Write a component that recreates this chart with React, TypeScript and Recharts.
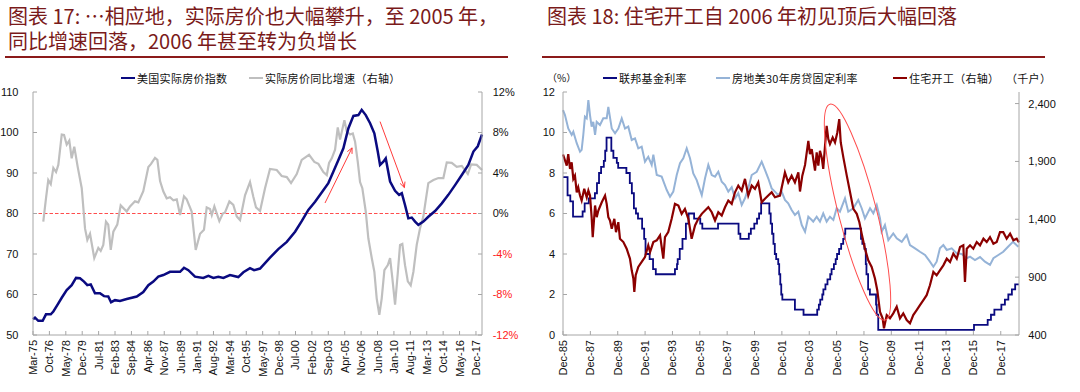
import { LineChart, Line, XAxis, YAxis, ReferenceLine } from "recharts";

// ---- 图表17: 美国实际房价 (decimal year, value) ----
const realHpiIndex: [number, number][] = [
  [1975.17, 53.9], [1975.36, 54.3], [1975.68, 53.5], [1976.1, 53.5], [1976.42, 55.1], [1976.88, 55.1],
  [1977.13, 55.8], [1977.51, 57.4], [1977.94, 59.2], [1978.42, 61.1], [1978.9, 62.3], [1979.32, 64.1],
  [1979.7, 64.0], [1980.09, 63.2], [1980.41, 62.3], [1980.74, 62.5], [1981.15, 60.3], [1981.63, 60.3],
  [1982.02, 59.6], [1982.43, 59.5], [1982.7, 58.1], [1983.08, 58.6], [1983.56, 58.4], [1984.21, 58.9],
  [1985.18, 59.5], [1985.81, 60.6], [1986.3, 62.3], [1986.78, 63.2], [1987.26, 64.4], [1987.74, 64.8],
  [1988.39, 65.6], [1989.36, 65.6], [1989.74, 66.6], [1990.16, 66.0], [1990.8, 64.4], [1991.6, 64.1],
  [1992.09, 64.6], [1992.57, 64.1], [1993.05, 64.4], [1993.54, 64.1], [1994.18, 64.8], [1994.98, 64.3],
  [1995.47, 65.5], [1996.11, 66.5], [1996.5, 66.0], [1997.08, 66.4], [1998.04, 69.1], [1998.84, 71.2],
  [1999.66, 73.0], [2000.46, 75.5], [2001.1, 78.1], [2001.74, 80.9], [2002.39, 82.9], [2003.03, 85.2],
  [2003.67, 87.5], [2004.15, 90.3], [2004.64, 93.2], [2005.12, 96.1], [2005.6, 101.0], [2006.09, 104.1],
  [2006.57, 104.3], [2006.89, 105.6], [2007.28, 104.3], [2007.7, 102.3], [2008.11, 99.8], [2008.44, 95.3],
  [2008.66, 92.0], [2008.98, 92.8], [2009.21, 93.6], [2009.63, 87.9], [2010.11, 85.6], [2010.5, 84.6],
  [2010.76, 85.0], [2011.07, 82.1], [2011.39, 78.8], [2011.72, 79.0], [2012.04, 78.0], [2012.36, 77.2],
  [2012.84, 78.0], [2013.32, 79.2], [2013.97, 80.6], [2014.62, 82.5], [2015.25, 84.6], [2015.9, 87.0],
  [2016.55, 89.5], [2017.18, 92.0], [2017.67, 95.3], [2018.09, 96.6], [2018.5, 99.5],
];

const realHpiYoY: [number, number][] = [
  [1976.16, -0.8], [1976.42, 1.5], [1976.64, 3.3], [1976.88, 2.9], [1977.13, 4.5], [1977.39, 4.1],
  [1977.61, 4.8], [1977.94, 7.8], [1978.16, 7.75], [1978.42, 6.8], [1978.67, 7.2], [1978.9, 5.45],
  [1979.15, 6.6], [1979.48, 4.6], [1979.87, 2.5], [1980.19, -1.5], [1980.41, -2.6], [1980.67, -2.0],
  [1981.08, -4.4], [1981.47, -3.4], [1981.7, -3.7], [1981.95, -3.1], [1982.21, -0.8], [1982.43, -1.1],
  [1982.67, -3.6], [1982.92, -1.8], [1983.3, -1.1], [1983.63, 0.8], [1984.21, 0.2], [1984.53, 0.7],
  [1985.01, 1.2], [1985.33, 1.1], [1985.81, 2.2], [1986.3, 4.6], [1986.56, 4.9], [1986.94, 5.5],
  [1987.17, 5.3], [1987.43, 3.2], [1987.74, 2.2], [1988.07, 1.5], [1988.39, 1.6], [1988.71, 1.3],
  [1989.04, 1.4], [1989.36, -0.15], [1989.74, 1.7], [1990.0, 1.4], [1990.48, 0.2], [1990.87, -3.6],
  [1991.29, -2.0], [1991.67, -1.6], [1991.93, 0.6], [1992.25, 0.45], [1992.42, -0.15], [1992.67, 0.7],
  [1993.15, -0.75], [1993.48, 0.0], [1993.7, 0.1], [1994.12, 1.2], [1994.5, 0.85], [1994.83, -0.3],
  [1995.15, -0.65], [1995.63, 1.8], [1996.11, 3.1], [1996.43, 1.65], [1996.69, 0.6], [1997.08, 0.25],
  [1997.56, 2.5], [1998.04, 4.4], [1998.69, 4.3], [1999.17, 3.7], [1999.66, 3.6], [2000.07, 3.0],
  [2000.62, 3.9], [2001.1, 5.3], [2001.81, 5.8], [2002.32, 5.1], [2002.71, 4.9], [2003.19, 4.1],
  [2003.52, 3.8], [2003.74, 5.0], [2004.0, 5.45], [2004.32, 6.3], [2004.58, 8.5], [2004.8, 7.3],
  [2005.22, 9.2], [2005.45, 8.1], [2005.77, 7.8], [2006.03, 7.9], [2006.25, 7.1], [2006.51, 5.1],
  [2006.73, 3.1], [2006.95, 2.5], [2007.28, 0.2], [2007.53, -2.45], [2007.86, -4.4], [2008.11, -5.75],
  [2008.34, -8.4], [2008.59, -10.0], [2008.82, -8.4], [2009.08, -5.6], [2009.41, -5.1], [2009.63, -4.4],
  [2009.85, -6.4], [2010.11, -9.0], [2010.37, -5.9], [2010.59, -3.1], [2010.81, -3.0], [2011.07, -5.1],
  [2011.34, -6.7], [2011.62, -7.1], [2011.88, -5.75], [2012.2, -3.1], [2012.52, -1.45], [2012.84, -0.3],
  [2013.07, 1.3], [2013.32, 3.0], [2013.81, 3.3], [2014.29, 3.5], [2014.77, 3.5], [2015.1, 5.05],
  [2015.58, 5.0], [2016.06, 4.6], [2016.55, 4.7], [2017.13, 3.9], [2017.45, 4.85], [2017.99, 4.8],
  [2018.5, 4.3],
];

const leftXLabels = [
  "Mar-75", "Oct-76", "May-78", "Dec-79", "Jul-81", "Feb-83", "Sep-84", "Apr-86", "Nov-87", "Jun-89",
  "Jan-91", "Aug-92", "Mar-94", "Oct-95", "May-97", "Dec-98", "Jul-00", "Feb-02", "Sep-03", "Apr-05",
  "Nov-06", "Jun-08", "Jan-10", "Aug-11", "Mar-13", "Oct-14", "May-16", "Dec-17",
];
const leftXDomain = [1975 + 2 / 12, 2018.5];
const leftYTicks = [50, 60, 70, 80, 90, 100, 110];
const leftY2Ticks = [-12, -8, -4, 0, 4, 8, 12];

// ---- 图表18: 利率 (%) 与住宅开工 (千户) ----
const fedFundsRate: [number, number][] = [
  [1985.92, 7.8], [1986.25, 6.9], [1986.45, 6.6], [1986.65, 5.85], [1987.35, 6.1], [1987.5, 6.5],
  [1987.8, 6.75], [1988.25, 7.0], [1988.4, 7.5], [1988.55, 8.0], [1988.7, 8.3], [1988.9, 8.6],
  [1989.0, 9.1], [1989.1, 9.75], [1989.45, 9.1], [1989.6, 8.75], [1989.85, 8.5], [1989.95, 8.25],
  [1990.55, 8.0], [1990.8, 7.5], [1990.95, 7.0], [1991.1, 6.25], [1991.25, 6.0], [1991.4, 5.75],
  [1991.7, 5.25], [1991.85, 4.75], [1991.95, 4.0], [1992.25, 3.75], [1992.5, 3.25], [1992.7, 3.0],
  [1994.1, 3.25], [1994.25, 3.5], [1994.3, 3.75], [1994.45, 4.25], [1994.65, 4.75], [1994.9, 5.5],
  [1995.1, 6.0], [1995.5, 5.75], [1995.95, 5.5], [1996.1, 5.25], [1997.25, 5.5], [1998.75, 5.0],
  [1998.88, 4.75], [1999.5, 5.0], [1999.65, 5.25], [1999.9, 5.5], [2000.1, 5.75], [2000.25, 6.0],
  [2000.4, 6.5], [2001.0, 6.0], [2001.1, 5.5], [2001.2, 5.0], [2001.3, 4.5], [2001.4, 4.0],
  [2001.5, 3.75], [2001.65, 3.5], [2001.72, 3.0], [2001.8, 2.5], [2001.87, 2.0], [2001.95, 1.75],
  [2002.87, 1.25], [2003.5, 1.0], [2004.5, 1.25], [2004.62, 1.5], [2004.72, 1.75], [2004.87, 2.0],
  [2004.95, 2.25], [2005.1, 2.5], [2005.25, 2.75], [2005.45, 3.0], [2005.55, 3.25], [2005.72, 3.5],
  [2005.85, 3.75], [2005.95, 4.0], [2006.1, 4.25], [2006.25, 4.5], [2006.4, 4.75], [2006.5, 5.0],
  [2006.55, 5.25], [2007.7, 4.75], [2007.8, 4.5], [2007.95, 4.25], [2008.05, 3.5], [2008.1, 3.0],
  [2008.22, 2.25], [2008.35, 2.0], [2008.8, 1.5], [2008.85, 1.0], [2008.96, 0.25], [2015.96, 0.5],
  [2016.96, 0.75], [2017.2, 1.0], [2017.45, 1.25], [2017.96, 1.5], [2018.22, 1.75], [2018.47, 2.0],
  [2018.73, 2.25], [2018.97, 2.5], [2019.25, 2.5],
];

const freddie30y: [number, number][] = [
  [1985.92, 11.1], [1986.06, 10.86], [1986.3, 10.2], [1986.55, 9.88], [1986.67, 10.04], [1986.92, 9.47],
  [1987.16, 9.05], [1987.28, 9.14], [1987.4, 9.88], [1987.52, 10.78], [1987.65, 10.7], [1987.77, 11.6],
  [1987.89, 10.86], [1988.01, 10.29], [1988.13, 10.53], [1988.26, 9.88], [1988.38, 10.53], [1988.62, 10.37],
  [1988.86, 10.7], [1989.11, 10.7], [1989.23, 11.27], [1989.48, 10.2], [1989.72, 9.96], [1989.96, 10.2],
  [1990.21, 10.7], [1990.45, 10.2], [1990.69, 10.29], [1990.94, 9.63], [1991.18, 9.71], [1991.42, 9.22],
  [1991.67, 9.3], [1991.91, 8.56], [1992.15, 8.8], [1992.4, 8.4], [1992.52, 8.9], [1992.77, 7.9],
  [1993.13, 7.82], [1993.5, 7.16], [1993.74, 6.83], [1993.98, 7.08], [1994.23, 7.9], [1994.47, 8.48],
  [1994.71, 8.73], [1994.96, 9.22], [1995.2, 8.73], [1995.44, 7.98], [1995.69, 7.65], [1995.81, 7.4],
  [1996.06, 6.91], [1996.3, 7.74], [1996.54, 8.4], [1996.79, 7.9], [1997.03, 7.82], [1997.27, 8.06],
  [1997.52, 7.57], [1997.76, 7.4], [1998.0, 7.08], [1998.25, 7.3], [1998.49, 6.75], [1998.73, 7.0],
  [1998.98, 6.42], [1999.22, 6.75], [1999.46, 7.24], [1999.71, 7.9], [2000.08, 8.06], [2000.44, 8.56],
  [2000.68, 8.15], [2000.92, 7.74], [2001.17, 7.24], [2001.41, 7.08], [2001.65, 6.91], [2001.9, 7.08],
  [2002.14, 6.67], [2002.38, 6.5], [2002.63, 6.17], [2002.87, 5.93], [2003.12, 6.09], [2003.37, 5.43],
  [2003.61, 5.1], [2003.85, 5.84], [2004.1, 5.68], [2004.21, 5.6], [2004.46, 5.84], [2004.7, 5.6],
  [2004.94, 6.01], [2005.19, 5.6], [2005.43, 5.84], [2005.68, 5.68], [2005.92, 6.26], [2006.16, 6.09],
  [2006.53, 6.75], [2006.77, 6.09], [2007.14, 6.26], [2007.5, 6.67], [2007.75, 6.26], [2007.99, 5.76],
  [2008.36, 6.26], [2008.6, 6.01], [2008.85, 6.42], [2009.09, 5.76], [2009.21, 5.1], [2009.45, 5.43],
  [2009.7, 4.69], [2010.06, 5.02], [2010.31, 4.78], [2010.68, 4.6], [2011.04, 4.94], [2011.28, 4.44],
  [2011.65, 4.28], [2012.01, 4.11], [2012.38, 3.95], [2012.74, 3.62], [2012.99, 3.37], [2013.23, 3.62],
  [2013.47, 4.28], [2013.72, 4.44], [2013.97, 4.2], [2014.33, 4.28], [2014.7, 4.03], [2015.06, 4.0],
  [2015.43, 3.79], [2015.67, 3.87], [2016.03, 3.7], [2016.4, 3.85], [2016.76, 3.62], [2017.13, 3.46],
  [2017.38, 3.79], [2017.74, 3.95], [2018.1, 4.11], [2018.45, 4.36], [2018.81, 4.6], [2019.2, 4.36],
];

const housingStarts: [number, number][] = [
  [1985.92, 1960], [1986.19, 1863], [1986.3, 1964], [1986.43, 1835], [1986.55, 1892], [1986.67, 1749],
  [1986.79, 1777], [1986.92, 1633], [1987.03, 1676], [1987.16, 1605], [1987.28, 1562], [1987.47, 1663],
  [1987.65, 1590], [1987.77, 1648], [1987.89, 1605], [1988.01, 1418], [1988.09, 1246], [1988.26, 1519],
  [1988.38, 1418], [1988.5, 1476], [1988.75, 1547], [1988.99, 1605], [1989.11, 1533], [1989.23, 1418],
  [1989.35, 1390], [1989.48, 1318], [1989.67, 1404], [1989.79, 1289], [1989.96, 1375], [1990.08, 1232],
  [1990.33, 1203], [1990.57, 1146], [1990.81, 1060], [1990.94, 959], [1991.06, 888], [1991.13, 773],
  [1991.23, 916], [1991.42, 988], [1991.67, 1031], [1991.91, 1074], [1992.15, 1175], [1992.28, 1117],
  [1992.52, 1203], [1992.77, 1218], [1993.01, 1261], [1993.25, 1060], [1993.37, 1246], [1993.61, 1289],
  [1993.86, 1404], [1994.1, 1533], [1994.35, 1519], [1994.59, 1447], [1994.83, 1490], [1995.08, 1404],
  [1995.32, 1232], [1995.57, 1347], [1995.81, 1404], [1996.06, 1447], [1996.3, 1476], [1996.54, 1504],
  [1996.79, 1461], [1997.03, 1390], [1997.27, 1461], [1997.52, 1433], [1997.76, 1504], [1998.0, 1562],
  [1998.25, 1533], [1998.49, 1633], [1998.73, 1691], [1998.98, 1648], [1999.22, 1749], [1999.46, 1605],
  [1999.71, 1691], [1999.95, 1663], [2000.19, 1719], [2000.44, 1547], [2000.68, 1577], [2000.92, 1605],
  [2001.17, 1633], [2001.41, 1590], [2001.78, 1605], [2002.14, 1805], [2002.38, 1719], [2002.63, 1777],
  [2002.87, 1719], [2003.12, 1805], [2003.24, 1640], [2003.41, 1777], [2003.61, 1870], [2003.85, 2078],
  [2003.97, 1964], [2004.1, 2007], [2004.21, 1921], [2004.34, 1820], [2004.46, 1978], [2004.58, 1863],
  [2004.7, 1992], [2004.83, 1935], [2004.94, 1835], [2005.07, 2035], [2005.19, 2207], [2005.31, 2093],
  [2005.43, 2050], [2005.63, 2107], [2005.8, 2064], [2005.97, 2150], [2006.11, 2265], [2006.22, 2064],
  [2006.41, 1935], [2006.66, 1777], [2006.9, 1633], [2007.14, 1490], [2007.39, 1447], [2007.58, 1375],
  [2007.75, 1275], [2007.99, 1146], [2008.23, 1045], [2008.48, 988], [2008.72, 888], [2008.89, 787],
  [2009.09, 600], [2009.28, 544], [2009.38, 458], [2009.58, 572], [2009.82, 544], [2010.06, 587],
  [2010.31, 644], [2010.55, 544], [2010.79, 587], [2011.04, 529], [2011.28, 501], [2011.52, 572],
  [2011.77, 615], [2012.01, 658], [2012.26, 701], [2012.5, 744], [2012.74, 830], [2012.99, 945],
  [2013.23, 916], [2013.47, 959], [2013.72, 1002], [2013.97, 1060], [2014.21, 1031], [2014.45, 1103],
  [2014.7, 1060], [2014.94, 1160], [2015.18, 1175], [2015.3, 859], [2015.43, 1146], [2015.67, 1175],
  [2015.91, 1146], [2016.16, 1203], [2016.4, 1175], [2016.65, 1232], [2016.89, 1203], [2017.13, 1246],
  [2017.38, 1189], [2017.62, 1203], [2017.86, 1289], [2018.1, 1289], [2018.35, 1232], [2018.6, 1275],
  [2018.84, 1218], [2019.08, 1232], [2019.25, 1200],
];

const rightXLabels = [
  "Dec-85", "Dec-87", "Dec-89", "Dec-91", "Dec-93", "Dec-95", "Dec-97", "Dec-99", "Dec-01",
  "Dec-03", "Dec-05", "Dec-07", "Dec-09", "Dec-11", "Dec-13", "Dec-15", "Dec-17",
];
const rightXDomain = [1985 + 11 / 12, 2019.25];
const rightYTicks = [0, 2, 4, 6, 8, 10, 12];
const rightY2Ticks = [400, 900, 1400, 1900, 2400];

// annotations, in data units
const zeroLine = [{ x: leftXDomain[0], y: 0 }, { x: leftXDomain[1], y: 0 }];
const riseArrow = [{ x: 2003.35, y: 82.6 }, { x: 2005.96, y: 96.2 }];
const fallArrow = [{ x: 2008.66, y: 102.7 }, { x: 2011.01, y: 86.4 }];
const peakEllipse = [{ x: 2005.43, y: 11.4 }, { x: 2009.46, y: 0.74 }];

const MONTHS = ["Jan", "Feb", "Mar", "Apr", "May", "Jun", "Jul", "Aug", "Sep", "Oct", "Nov", "Dec"];
const labelToYear = (s: string) => {
  const [m, yy] = s.split("-");
  const y = Number(yy);
  return (y < 50 ? 2000 + y : 1900 + y) + MONTHS.indexOf(m) / 12;
};
const rows = (pairs: [number, number][]) => pairs.map(([x, v]) => ({ x, v }));

const AXIS = "#a6a6a6";
const TICK_FONT = "'Liberation Sans', Arial, sans-serif";
const CJK = "'Noto Sans CJK SC', sans-serif";
const TITLE_RED = "#7a1a1a";

const makeXTick = (labels: string[]) => {
  const ticks = labels.map(labelToYear);
  const Tick = (p: any) => {
    const i = ticks.findIndex((t) => Math.abs(t - p.payload.value) < 0.001);
    return (
      <text x={p.x} y={p.y} transform={`rotate(-90 ${p.x} ${p.y})`} textAnchor="end"
        dominantBaseline="central" fontSize={11} fontFamily={TICK_FONT} fill="#111">
        {labels[i] ?? ""}
      </text>
    );
  };
  return { ticks, Tick };
};

const yTick = (anchor: "start" | "end", fmt: (v: number) => string, color?: (v: number) => string) => (p: any) => (
  <text x={p.x} y={p.y} dy="0.36em" textAnchor={anchor} fontSize={11} fontFamily={TICK_FONT}
    fill={color ? color(p.payload.value) : "#111"}>
    {fmt(p.payload.value)}
  </text>
);

const DashedShape = (p: any) => (
  <line x1={p.x1} y1={p.y1} x2={p.x2} y2={p.y2} stroke="#ff4d4d" strokeWidth={1} strokeDasharray="3.5 2" />
);

const ArrowShape = (p: any) => {
  const { x1, y1, x2, y2 } = p;
  const a = Math.atan2(y2 - y1, x2 - x1);
  const h = 6;
  const pts = [a - 0.45, a + 0.45].map((t) => `${x2 - h * Math.cos(t)},${y2 - h * Math.sin(t)}`);
  return (
    <g stroke="#ff3b3b" strokeWidth={1} fill="none">
      <line x1={x1} y1={y1} x2={x2} y2={y2} />
      <polyline points={`${pts[0]} ${x2},${y2} ${pts[1]}`} />
    </g>
  );
};

const EllipseShape = (p: any) => {
  const { x1, y1, x2, y2 } = p;
  const cx = (x1 + x2) / 2;
  const cy = (y1 + y2) / 2;
  const len = Math.hypot(x2 - x1, y2 - y1);
  const ang = (Math.atan2(y2 - y1, x2 - x1) * 180) / Math.PI;
  return (
    <ellipse cx={cx} cy={cy} rx={len / 2} ry={19} transform={`rotate(${ang} ${cx} ${cy})`}
      fill="none" stroke="#ff4d4d" strokeWidth={1} />
  );
};

const LegendItem = ({ x, color, text, width = 14 }: { x: number; color: string; text: string; width?: number }) => (
  <div style={{ position: "absolute", left: x, top: 70, height: 16, display: "flex", alignItems: "center", whiteSpace: "nowrap" }}>
    <span style={{ display: "inline-block", width, height: 2.5, background: color, marginRight: 2 }} />
    <span style={{ fontFamily: CJK, fontSize: 11, color: "#111", letterSpacing: 0.3, lineHeight: "16px" }}>{text}</span>
  </div>
);

const Title = ({ x, lines }: { x: number; lines: string[] }) => (
  <div style={{ position: "absolute", left: x, top: 2.5, fontFamily: CJK, fontSize: 20, lineHeight: "25.5px", color: TITLE_RED, whiteSpace: "nowrap" }}>
    {lines.map((l, i) => (
      <span key={i}>
        {i > 0 && <br />}
        {l}
      </span>
    ))}
  </div>
);

const leftX = makeXTick(leftXLabels);
const rightX = makeXTick(rightXLabels);

export default function App() {
  return (
    <div style={{ position: "absolute", left: 0, top: 0, width: 1080, height: 392, background: "#fff", overflow: "hidden" }}>
      <Title x={8} lines={["图表 17: …相应地，实际房价也大幅攀升，至 2005 年，", "同比增速回落，2006 年甚至转为负增长"]} />
      <Title x={547} lines={["图表 18: 住宅开工自 2006 年初见顶后大幅回落"]} />
      <div style={{ position: "absolute", left: 5, top: 56, width: 503, height: 1.5, background: "#8b1a1a" }} />
      <div style={{ position: "absolute", left: 542, top: 56, width: 503, height: 1.5, background: "#8b1a1a" }} />

      <LegendItem x={121} color="#0a0a80" text="美国实际房价指数" />
      <LegendItem x={249} color="#bfbfbf" text="实际房价同比增速（右轴）" />

      <div style={{ position: "absolute", left: 547, top: 70, fontFamily: CJK, fontSize: 10, lineHeight: "16px", color: "#111" }}>（%）</div>
      <LegendItem x={603} color="#0a0a80" text="联邦基金利率" />
      <LegendItem x={716} color="#95b3d7" text="房地美30年房贷固定利率" />
      <LegendItem x={893} color="#8b0000" text="住宅开工（右轴）" />
      <div style={{ position: "absolute", left: 1006, top: 70, fontFamily: CJK, fontSize: 11, lineHeight: "16px", color: "#111", letterSpacing: 0.3 }}>（千户）</div>

      <div style={{ position: "absolute", left: 0, top: 0 }}>
        <LineChart width={540} height={392} margin={{ top: 92, right: 0, bottom: 0, left: 0 }}>
          <XAxis type="number" dataKey="x" domain={leftXDomain} ticks={leftX.ticks} interval={0}
            height={57} stroke={AXIS} tickSize={-4} tickMargin={9} tick={leftX.Tick} />
          <YAxis yAxisId="left" domain={[50, 110]} ticks={leftYTicks} width={33} stroke={AXIS}
            tickSize={-4} tickMargin={18.5} tick={yTick("end", (v) => String(v))} />
          <YAxis yAxisId="right" orientation="right" domain={[-12, 12]} ticks={leftY2Ticks} width={58} stroke={AXIS}
            tickSize={-4} tickMargin={14.7}
            tick={yTick("start", (v) => `${v}%`, (v) => (v < 0 ? "#ff2020" : "#111"))} />
          <ReferenceLine yAxisId="right" segment={zeroLine} shape={DashedShape} />
          <Line yAxisId="right" data={rows(realHpiYoY)} dataKey="v" type="linear" stroke="#bfbfbf"
            strokeWidth={2.2} dot={false} isAnimationActive={false} />
          <Line yAxisId="left" data={rows(realHpiIndex)} dataKey="v" type="linear" stroke="#0a0a80"
            strokeWidth={2.5} dot={false} isAnimationActive={false} />
          <ReferenceLine yAxisId="left" segment={riseArrow} shape={ArrowShape} />
          <ReferenceLine yAxisId="left" segment={fallArrow} shape={ArrowShape} />
        </LineChart>
      </div>

      <div style={{ position: "absolute", left: 540, top: 0 }}>
        <LineChart width={540} height={392} margin={{ top: 92, right: 0, bottom: 0, left: 0 }}>
          <XAxis type="number" dataKey="x" domain={rightXDomain} ticks={rightX.ticks} interval={0}
            height={57} stroke={AXIS} tickSize={-4} tickMargin={9} tick={rightX.Tick} />
          <YAxis yAxisId="left" domain={[0, 12]} ticks={rightYTicks} width={23} stroke={AXIS}
            tickSize={-4} tickMargin={12} tick={yTick("end", (v) => String(v))} />
          <YAxis yAxisId="right" orientation="right" domain={[400, 2500]} ticks={rightY2Ticks} width={61} stroke={AXIS}
            tickSize={-4} tickMargin={13.3} tick={yTick("start", (v) => v.toLocaleString("en-US"))} />
          <Line yAxisId="left" data={rows(freddie30y)} dataKey="v" type="linear" stroke="#95b3d7"
            strokeWidth={2} dot={false} isAnimationActive={false} />
          <Line yAxisId="left" data={rows(fedFundsRate)} dataKey="v" type="stepAfter" stroke="#0a0a80"
            strokeWidth={1.8} dot={false} isAnimationActive={false} />
          <Line yAxisId="right" data={rows(housingStarts)} dataKey="v" type="linear" stroke="#8b0000"
            strokeWidth={2.2} dot={false} isAnimationActive={false} />
          <ReferenceLine yAxisId="left" segment={peakEllipse} shape={EllipseShape} />
        </LineChart>
      </div>
    </div>
  );
}
